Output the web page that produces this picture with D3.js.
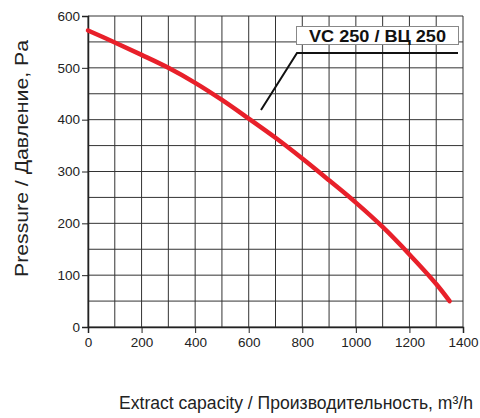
<!DOCTYPE html>
<html lang="en">
<head>
<meta charset="UTF-8">
<title>VC 250</title>
<style>
    body { margin: 0; background: #fff; }
    svg { display: block; }
    .tick text { font-family: "Liberation Sans", Arial, sans-serif; font-size: 13.5px; fill: #222; }
    .title { font-family: "Liberation Sans", Arial, sans-serif; font-size: 19px; fill: #222; }
</style>
</head>
<body>
<svg id="chart"></svg>
<script src="https://d3js.org/d3.v7.min.js"></script>
<script>
    var flow = [0, 100, 200, 300, 400, 500, 600, 700, 800, 900, 1000, 1100, 1200, 1300, 1350]
    var pressure = [572, 549, 525, 500, 471, 438, 402, 365, 325, 283, 240, 193, 140, 83, 50]
    var xTicks = [0, 200, 400, 600, 800, 1000, 1200, 1400]
    var yTicks = [0, 100, 200, 300, 400, 500, 600]
    var seriesName = 'VC 250 / ВЦ 250'

    var svgWidth = 480, svgHeight = 418
    var margin = {top: 16, right: 17, bottom: 91, left: 88}
    var width = svgWidth - margin.left - margin.right
    var height = svgHeight - margin.top - margin.bottom

    var svg = d3.select('#chart')
        .attr('width', svgWidth)
        .attr('height', svgHeight)
    var g = svg.append('g')
        .attr('transform', 'translate(' + margin.left + ',' + margin.top + ')')

    var x = d3.scaleLinear().domain([0, 1400]).range([0, width])
    var y = d3.scaleLinear().domain([0, 600]).range([height, 0])

    // grid
    g.append('g').selectAll('line')
        .data(d3.range(0, 1401, 100))
        .enter().append('line')
        .attr('x1', function (d) { return x(d) })
        .attr('x2', function (d) { return x(d) })
        .attr('y1', 0).attr('y2', height)
        .attr('stroke', '#333').attr('stroke-width', 1)
    g.append('g').selectAll('line')
        .data(d3.range(0, 601, 50))
        .enter().append('line')
        .attr('y1', function (d) { return y(d) })
        .attr('y2', function (d) { return y(d) })
        .attr('x1', 0).attr('x2', width)
        .attr('stroke', '#333').attr('stroke-width', 1)

    // axes
    var xAxis = g.append('g')
        .attr('transform', 'translate(0,' + height + ')')
        .call(d3.axisBottom(x).tickValues(xTicks).tickFormat(d3.format('d')).tickSize(6).tickPadding(4))
    var yAxis = g.append('g')
        .call(d3.axisLeft(y).tickValues(yTicks).tickFormat(d3.format('d')).tickSize(6).tickPadding(2))
    xAxis.select('.domain').attr('stroke', '#222').attr('stroke-width', 1.5)
    yAxis.select('.domain').attr('stroke', '#222').attr('stroke-width', 1.5)
    g.selectAll('.tick line').attr('stroke', '#222')

    // curve
    var points = flow.map(function (d, i) { return [d, pressure[i]] })
    var line = d3.line()
        .x(function (d) { return x(d[0]) })
        .y(function (d) { return y(d[1]) })
        .curve(d3.curveCatmullRom.alpha(0.5))
    g.append('path')
        .datum(points)
        .attr('d', line)
        .attr('fill', 'none')
        .attr('stroke', '#e8202a')
        .attr('stroke-width', 4.5)
        .attr('stroke-linecap', 'round')

    // series label with leader
    var lab = svg.append('g')
    lab.append('rect')
        .attr('x', 296.5).attr('y', 26.5)
        .attr('width', 162).attr('height', 18)
        .attr('fill', '#fff').attr('stroke', '#888').attr('stroke-width', 1)
    lab.append('text')
        .attr('x', 309).attr('y', 42)
        .attr('font-family', '"Liberation Sans", Arial, sans-serif')
        .attr('font-weight', 'bold')
        .attr('font-size', 16)
        .attr('fill', '#111')
        .attr('textLength', 137)
        .attr('lengthAdjust', 'spacingAndGlyphs')
        .text(seriesName)
    lab.append('polyline')
        .attr('points', '261,110 297,53 458,53')
        .attr('fill', 'none')
        .attr('stroke', '#111')
        .attr('stroke-width', 2)

    // titles
    svg.append('text')
        .attr('class', 'title')
        .attr('transform', 'translate(28,277) rotate(-90)')
        .attr('textLength', 237)
        .attr('lengthAdjust', 'spacingAndGlyphs')
        .text('Pressure / Давление,  Pa')
    svg.append('text')
        .attr('class', 'title')
        .attr('font-size', 17.5)
        .style('font-size', '17.5px')
        .attr('x', 119).attr('y', 409)
        .attr('textLength', 354)
        .attr('lengthAdjust', 'spacingAndGlyphs')
        .text('Extract capacity / Производительность, m³/h')
</script>
</body>
</html>
